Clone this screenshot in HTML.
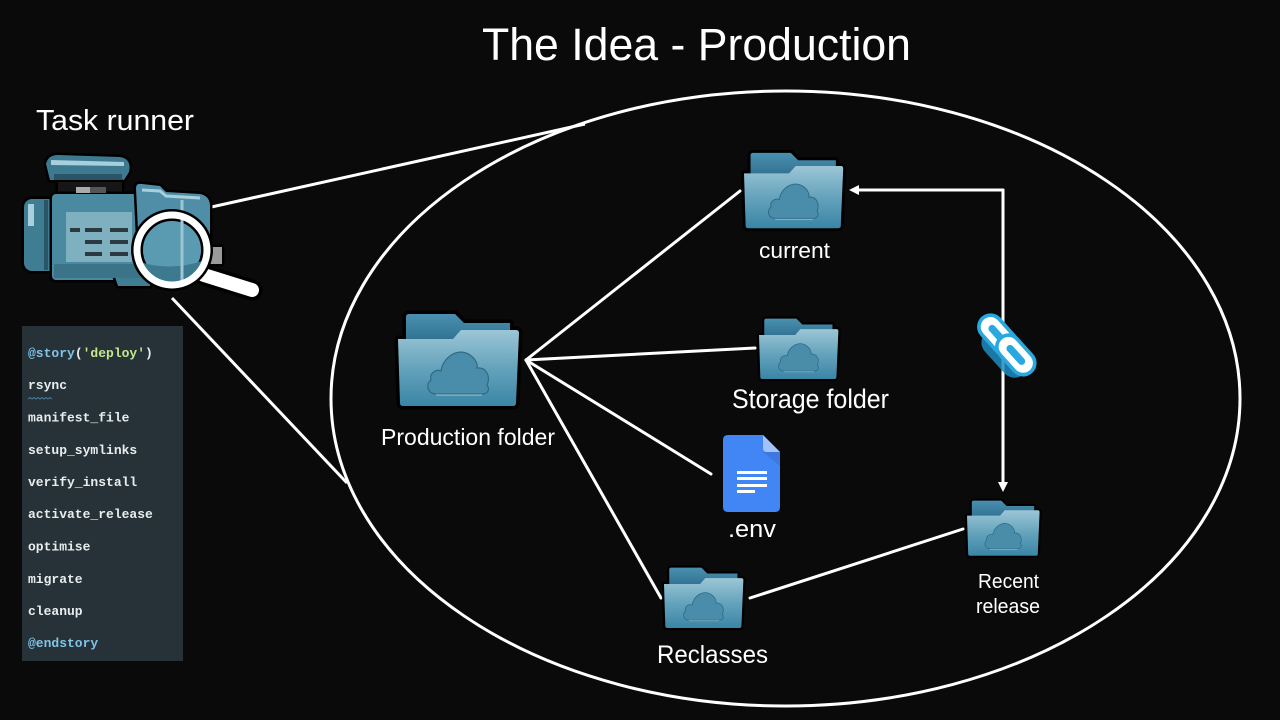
<!DOCTYPE html>
<html><head><meta charset="utf-8"><style>
html,body{margin:0;padding:0;background:#0a0a0a;}
svg{display:block;}
</style></head><body>
<svg width="1280" height="720" viewBox="0 0 1280 720" xmlns="http://www.w3.org/2000/svg">
<defs>
<linearGradient id="front" x1="0" y1="0" x2="0" y2="1">
<stop offset="0" stop-color="#9cc6d6"/><stop offset="0.5" stop-color="#65a3bc"/><stop offset="1" stop-color="#3a85a6"/>
</linearGradient>
<linearGradient id="back" x1="0" y1="0" x2="0" y2="1">
<stop offset="0" stop-color="#4a90b0"/><stop offset="1" stop-color="#2f6f8e"/>
</linearGradient>
<g id="folder">
<path d="M8,4 Q8,1 11,1 L57,1 L66,10 L112,10 L112,30 L8,30 Z" fill="#000" stroke="#000" stroke-width="7" stroke-linejoin="round"/>
<path d="M0,26 L55,26 L63,17 L118,17 Q121,17 121,20 L118,90 Q118,93 115,93 L5,93 Q2,93 2,90 Z" fill="#000" stroke="#000" stroke-width="7" stroke-linejoin="round"/>
<path d="M8,4 Q8,1 11,1 L57,1 L66,10 L112,10 L112,30 L8,30 Z" fill="url(#back)"/>
<path d="M0,26 L55,26 L63,17 L118,17 Q121,17 121,20 L118,90 Q118,93 115,93 L5,93 Q2,93 2,90 Z" fill="url(#front)"/>
<path d="M38,81 C30,81 27,72 33,67 C31,60 38,56 43,58 C45,44 60,34 72,42 C78,46 80,52 79,55 C88,54 93,63 89,72 C93,78 88,81 84,81 Z" fill="#4a8dab" stroke="#2f6a85" stroke-width="1.2"/>
<path d="M38,82 L84,82" stroke="#9cc7d8" stroke-width="1"/>
</g>
</defs>
<rect width="1280" height="720" fill="#0a0a0a"/>

<!-- Title -->
<text x="482" y="60" font-family="Liberation Sans, sans-serif" font-size="45" fill="#ffffff" textLength="429" lengthAdjust="spacingAndGlyphs">The Idea - Production</text>
<text x="36" y="130" font-family="Liberation Sans, sans-serif" font-size="29" fill="#ffffff" textLength="158" lengthAdjust="spacingAndGlyphs">Task runner</text>

<!-- Ellipse -->
<ellipse cx="785.5" cy="398.5" rx="454.5" ry="307.5" fill="none" stroke="#ffffff" stroke-width="3"/>

<!-- connectors from device -->
<line x1="180" y1="214" x2="585" y2="124" stroke="#fff" stroke-width="3"/>
<line x1="172" y1="298" x2="347" y2="483" stroke="#fff" stroke-width="3"/>

<!-- Task runner device -->
<g stroke="#000" stroke-width="5" stroke-linejoin="round" paint-order="stroke">
<path d="M46,164 Q48,155 58,155 L120,157 Q132,159 129,172 L124,180 L50,180 Z" fill="#3d7a90"/>
<rect x="58" y="182" width="64" height="14" fill="#161616"/>
<rect x="24" y="199" width="34" height="72" rx="8" fill="#3f7d93"/>
<rect x="52" y="194" width="90" height="86" rx="4" fill="#4a8aa0"/>
<path d="M112,268 L150,268 L150,286 L118,286 Z" fill="#3f7d93"/>
<path d="M136,188 Q136,183 142,184 L160,186 L166,192 L200,194 Q210,196 210,206 L210,262 Q210,272 200,272 L140,272 Z" fill="#4f8ea6"/>
<rect x="210" y="247" width="12" height="17" fill="#9a9a9a"/>
</g>
<path d="M51,160 L124,162 L124,166 L51,165 Z" fill="#a8d0dc"/>
<rect x="54" y="174" width="68" height="6" fill="#2a5566"/>
<rect x="76" y="187" width="14" height="6" fill="#aaaaaa"/>
<rect x="90" y="187" width="16" height="6" fill="#555"/>
<rect x="28" y="204" width="6" height="22" fill="#a8d0dc"/>
<rect x="44" y="200" width="4" height="70" fill="#2a5566"/>
<rect x="66" y="212" width="66" height="50" fill="#7eb0c0"/>
<g fill="#2b3940">
<rect x="70" y="228" width="10" height="4"/><rect x="85" y="228" width="17" height="4"/><rect x="110" y="228" width="18" height="4"/>
<rect x="85" y="240" width="17" height="4"/><rect x="110" y="240" width="18" height="4"/>
<rect x="85" y="252" width="17" height="4"/><rect x="110" y="252" width="18" height="4"/>
</g>
<rect x="54" y="264" width="86" height="14" fill="#3b7488"/>
<path d="M142,190 L160,191 L166,196 L200,198" stroke="#a8d0dc" stroke-width="3" fill="none"/>
<line x1="182" y1="200" x2="182" y2="266" stroke="#9cc6d4" stroke-width="3"/>
<!-- magnifier -->
<line x1="204" y1="275" x2="252" y2="290" stroke="#000" stroke-width="21" stroke-linecap="round"/>
<line x1="204" y1="275" x2="252" y2="290" stroke="#fff" stroke-width="14" stroke-linecap="round"/>
<circle cx="172" cy="250" r="35" fill="#5a9bb2" stroke="#000" stroke-width="12"/>
<path d="M140,262 Q172,272 205,260 L205,262 Q190,285 172,285 Q150,285 140,262 Z" fill="#3d7a90"/>
<line x1="182" y1="216" x2="182" y2="284" stroke="#9cc6d4" stroke-width="3"/>
<circle cx="172" cy="250" r="35" fill="none" stroke="#fff" stroke-width="7"/>

<!-- Code panel -->
<rect x="22" y="326" width="161" height="335" fill="#263238"/>
<g font-family="Liberation Mono, monospace" font-size="13" font-weight="bold" fill="#e8eef0">
<text x="28" y="357"><tspan fill="#7fc4e8">@story</tspan>(<tspan fill="#c3e88d">'deploy'</tspan>)</text>
<text x="28" y="389">rsync</text>
<text x="28" y="421.5">manifest_file</text>
<text x="28" y="454">setup_symlinks</text>
<text x="28" y="486">verify_install</text>
<text x="28" y="518">activate_release</text>
<text x="28" y="550.5">optimise</text>
<text x="28" y="583">migrate</text>
<text x="28" y="615">cleanup</text>
<text x="28" y="647" fill="#7fc4e8">@endstory</text>
</g>
<path d="M28,399 l2,-1.5 l2,1.5 l2,-1.5 l2,1.5 l2,-1.5 l2,1.5 l2,-1.5 l2,1.5 l2,-1.5 l2,1.5 l2,-1.5 l2,1.5" stroke="#4a7a9a" stroke-width="1" fill="none"/>

<!-- Connectors in ellipse -->
<g stroke="#fff" stroke-width="3" stroke-linecap="round">
<line x1="526" y1="360" x2="740" y2="191"/>
<line x1="526" y1="360" x2="755" y2="348"/>
<line x1="526" y1="360" x2="711" y2="474"/>
<line x1="526" y1="360" x2="661" y2="598"/>
<line x1="750" y1="598" x2="963" y2="529"/>
<line x1="1003" y1="190" x2="1003" y2="484"/>
<line x1="1003" y1="190" x2="857" y2="190"/>
</g>
<polygon points="998,482 1008,482 1003,492" fill="#fff"/>
<polygon points="849,190 859,185 859,195" fill="#fff"/>

<!-- Folders -->
<use href="#folder" transform="translate(398,313)"/>
<use href="#folder" transform="translate(744,152) scale(0.82)"/>
<use href="#folder" transform="translate(759,318) scale(0.656)"/>
<use href="#folder" transform="translate(664,567) scale(0.656)"/>
<use href="#folder" transform="translate(967,500) scale(0.6)"/>

<!-- Doc icon -->
<path d="M728,435 L763,435 L780,452 L780,507 Q780,512 775,512 L728,512 Q723,512 723,507 L723,440 Q723,435 728,435 Z" fill="#4285f4"/>
<path d="M763,435 L780,452 L767,452 Q763,452 763,448 Z" fill="#a1c2fa"/>
<path d="M763,452 L780,452 L780,466 Z" fill="#3a6fd0" opacity="0.6"/>
<g fill="#fff">
<rect x="737" y="471" width="30" height="3"/>
<rect x="737" y="477" width="30" height="3"/>
<rect x="737" y="484" width="30" height="3"/>
<rect x="737" y="490" width="18" height="3"/>
</g>

<!-- Link icon -->
<g transform="translate(1006,344) rotate(48) scale(1.22)">
<rect x="-18" y="-5" width="46" height="22" rx="11" fill="#1f8cc0" opacity="0.85"/>
<rect x="-30" y="-11" width="40" height="22" rx="11" fill="#29a8e0"/>
<rect x="-27" y="-8" width="34" height="16" rx="8" fill="#fff"/>
<rect x="-20" y="-3" width="20" height="6" rx="3" fill="#29a8e0"/>
<rect x="-8" y="-11" width="40" height="22" rx="11" fill="#29a8e0"/>
<rect x="-5" y="-8" width="34" height="16" rx="8" fill="#fff"/>
<rect x="2" y="-3" width="20" height="6" rx="3" fill="#29a8e0"/>
</g>

<!-- Labels -->
<g font-family="Liberation Sans, sans-serif" fill="#ffffff">
<text x="381" y="445" font-size="23" textLength="174" lengthAdjust="spacingAndGlyphs">Production folder</text>
<text x="759" y="258" font-size="22" textLength="71" lengthAdjust="spacingAndGlyphs">current</text>
<text x="732" y="408" font-size="27" textLength="157" lengthAdjust="spacingAndGlyphs">Storage folder</text>
<text x="728" y="537" font-size="24" textLength="48" lengthAdjust="spacingAndGlyphs">.env</text>
<text x="657" y="663" font-size="25" textLength="111" lengthAdjust="spacingAndGlyphs">Reclasses</text>
<text x="978" y="588" font-size="20" textLength="61" lengthAdjust="spacingAndGlyphs">Recent</text>
<text x="976" y="613" font-size="20" textLength="64" lengthAdjust="spacingAndGlyphs">release</text>
</g>
</svg>
</body></html>
